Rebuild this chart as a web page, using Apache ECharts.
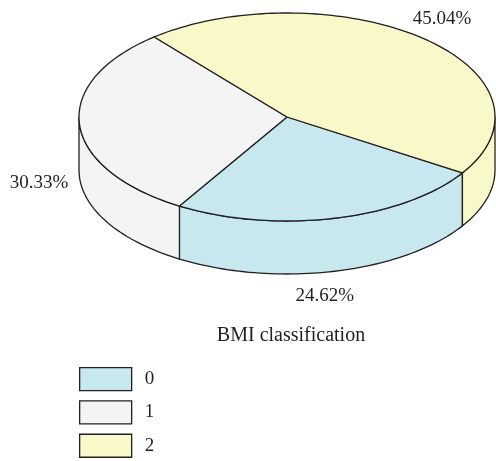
<!DOCTYPE html>
<html>
<head>
<meta charset="utf-8">
<script src="https://cdn.jsdelivr.net/npm/echarts@6/dist/echarts.min.js"></script>
<style>
  html, body { margin: 0; padding: 0; background: #fff; }
  #chart { width: 496px; height: 461px; }
</style>
</head>
<body>
<div id="chart"></div>
<script>
// BMI classification shares (%)
const categories = ["0", "1", "2"];
const shares = [24.62, 30.33, 45.04];
const labels = ["24.62%", "30.33%", "45.04%"];
const colors = ["#c8e8ef", "#f4f4f4", "#f8f8c8"];

const FONT = "Liberation Serif, Times New Roman, serif";
const INK = "#231f20";

// ellipse layout of the tilted pie
const CX = 287, CY = 117, RX = 208, RY = 104, DEPTH = 53;
const START_DEG = 32.5; // first slice starts here, going clockwise on screen
// small hand nudges for the percentage labels (px)
const labelNudge = [[-19, 5], [1, 4], [-10, -4]];

const total = shares.reduce((a, b) => a + b, 0);
const bounds = [];
let acc = START_DEG;
shares.forEach((v) => {
  const span = (v / total) * 360;
  bounds.push([acc, acc + span]);
  acc += span;
});

function pt(deg, dy) {
  const t = (deg * Math.PI) / 180;
  return [CX + RX * Math.cos(t), CY + RY * Math.sin(t) + (dy || 0)];
}

function arc(a, b, dy) {
  const pts = [];
  const n = Math.max(2, Math.ceil(Math.abs(b - a) / 1.5));
  for (let k = 0; k <= n; k++) pts.push(pt(a + ((b - a) * k) / n, dy));
  return pts;
}

function renderSlice(i) {
  return function (params, api) {
    const [a1, a2] = bounds[i];
    const children = [];
    // front-facing side walls
    [[0, 180], [360, 540]].forEach(([lo, hi]) => {
      const s = Math.max(a1, lo), e = Math.min(a2, hi);
      if (e > s) {
        const pts = arc(s, e, 0).concat(arc(e, s, DEPTH));
        children.push({
          type: "polygon",
          shape: { points: pts },
          style: { fill: colors[i], stroke: INK, lineWidth: 1.3, lineJoin: "round" },
          z2: 1,
        });
      }
    });
    // top face
    const top = [[CX, CY]].concat(arc(a1, a2, 0));
    children.push({
      type: "polygon",
      shape: { points: top },
      style: { fill: colors[i], stroke: INK, lineWidth: 1.3, lineJoin: "round" },
      z2: 2,
    });
    // percentage label
    const mid = ((a1 + a2) / 2) * Math.PI / 180;
    const s = Math.sin(mid);
    const lx = CX + RX * 1.2 * Math.cos(mid) + labelNudge[i][0];
    const ly = CY + RY * 1.2 * s + (s > 0 ? DEPTH : 0) + labelNudge[i][1];
    children.push({
      type: "text",
      style: {
        text: labels[i], x: lx, y: ly,
        textAlign: "center", textVerticalAlign: "middle",
        fill: INK, font: "19px " + FONT,
      },
      z2: 3,
    });
    return { type: "group", children: children };
  };
}

const chart = echarts.init(document.getElementById("chart"), null, { renderer: "canvas" });

chart.setOption({
  animation: false,
  title: {
    text: "BMI classification",
    left: 286,
    top: 321,
    textAlign: "center",
    textStyle: { fontFamily: FONT, fontSize: 20, fontWeight: "normal", color: INK },
  },
  legend: {
    orient: "vertical",
    left: 79,
    top: 367,
    height: 120,
    icon: "rect",
    itemWidth: 52,
    itemHeight: 23,
    itemGap: 9,
    padding: 0,
    data: categories,
    itemStyle: { borderColor: INK, borderWidth: 1.3 },
    textStyle: { fontFamily: FONT, fontSize: 19, color: INK, padding: [0, 0, 0, 8] },
  },
  series: categories.map((name, i) => ({
    type: "custom",
    name: name,
    coordinateSystem: "none",
    itemStyle: { color: colors[i] },
    data: [shares[i]],
    renderItem: renderSlice(i),
  })),
});
</script>
</body>
</html>
